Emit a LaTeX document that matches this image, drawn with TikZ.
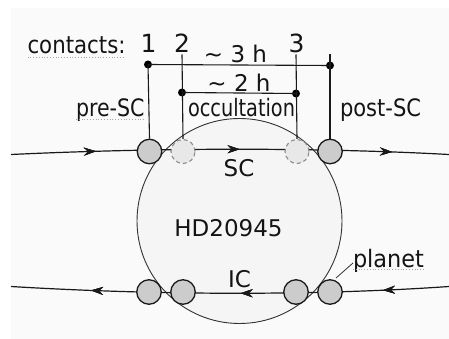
\documentclass[tikz,border=0pt]{standalone}
\usepackage{fontspec}
\setmainfont{DejaVu Sans}
\usetikzlibrary{arrows.meta,decorations.markings}
\newcommand{\sq}[2]{\scalebox{#1}[1]{#2}}
\begin{document}
\begin{tikzpicture}[x=1pt,y=-1pt,
  lbl/.style={inner sep=0pt,outer sep=0pt,font=\fontsize{23}{23}\selectfont,text=black!92},
  lw/.style={lbl,font=\fontsize{24}{24}\selectfont},
  digit/.style={lbl,font=\fontsize{25}{25}\selectfont},
  orbit/.style={line width=1.2pt,black!90},
  tick/.style={line width=1.1pt,black!90},
  planet/.style={circle,draw=black!90,line width=1.3pt,fill=black!20,minimum size=24.5pt,inner sep=0pt},
  hidden/.style={circle,draw=black!45,dash pattern=on 4pt off 3pt,line width=1.1pt,fill=black!9,minimum size=24pt,inner sep=0pt},
  dotn/.style={circle,fill=black,minimum size=8pt,inner sep=0pt},
  squiggle/.style={black!35,line width=0.8pt,dotted},
  arr/.style={decoration={markings,mark=at position #1 with {\arrow{Stealth[length=12pt,width=8pt,inset=4pt]}}},postaction={decorate}}
]
\useasboundingbox (0,0) rectangle (449,339);
\fill[white] (0,0) rectangle (449,339);
\fill[black!2] (11,8) rectangle (449,339);
% star
\node[circle,draw=black!80,line width=0.9pt,fill=black!4,minimum size=205pt,inner sep=0pt] (star) at (239.5,221) {};
\node[lbl,anchor=base] (hd) at (228.5,236.5) {HD20945};
% orbits
\coordinate (tl) at (11,154.5);
\coordinate (tr) at (449,154.5);
\coordinate (bl) at (11,286.5);
\coordinate (br) at (449,286.5);
\draw[orbit,arr/.list={0.194,0.522,0.87}] (tl) .. controls (160,147.5) and (320,147.5) .. (tr);
\draw[orbit,arr/.list={0.151,0.476,0.817}] (br) .. controls (320,295.5) and (160,295.5) .. (bl);
% planets top
\node[hidden] (p2) at (183,151.5) {};
\node[hidden] (p3) at (297,151.5) {};
\node[planet] (p1) at (149.5,151.5) {};
\node[planet] (p4) at (330,151.5) {};
% planets bottom
\node[planet] (q1) at (149,292) {};
\node[planet] (q2) at (183,292) {};
\node[planet] (q3) at (296,292) {};
\node[planet] (q4) at (330,292) {};
% contact lines
\coordinate (c2t) at (182,54.5);
\coordinate (c3t) at (296,54.5);
\coordinate (c4t) at (330,54.5);
\node[dotn] (d1) at (148,64.5) {};
\node[dotn] (d4) at (330,65.5) {};
\node[dotn] (d2) at (182,92.5) {};
\node[dotn] (d3) at (296,93.5) {};
\draw[tick] (d1.center) -- (p1.north);
\draw[tick] (c2t) -- (p2.north);
\draw[tick] (c3t) -- (p3.north);
\draw[tick] (c4t) -- (p4.north);
\draw[tick] (d1.center) -- (d4.center);
\draw[tick] (d2.center) -- (d3.center);
% labels
\node[lw,anchor=base west] (contacts) at (27.5,54) {\sq{0.888}{contacts:}};
\node[digit,anchor=base] (n1) at (148.5,53) {1};
\node[digit,anchor=base] (n2) at (182,53) {2};
\node[digit,anchor=base] (n3) at (296.5,52.5) {3};
\node[lbl,anchor=base] (h3) at (235.5,63) {\textasciitilde{} 3 h};
\node[lbl,anchor=base] (h2) at (239,91.5) {\textasciitilde{} 2 h};
\node[lw,anchor=base west] (pre) at (76,116.5) {\sq{0.857}{pre-SC}};
\node[lw,anchor=base west] (occ) at (188,116.5) {\sq{0.804}{occultation}};
\node[lw,anchor=base west] (post) at (340,116.5) {\sq{0.876}{post-SC}};
\node[lbl,anchor=base] (sc) at (239,176) {SC};
\node[lbl,anchor=base] (ic) at (239.5,287.5) {IC};
\node[lw,anchor=base west] (planet) at (353,267) {\sq{0.934}{planet}};
\coordinate (lead) at (336,278);
\draw[line width=0.8pt,black!80] (planet.west |- 0,263) -- (lead);
% spellcheck underlines
\draw[squiggle] (contacts.base west) ++(0,3) -- ++(98,0);
\draw[squiggle] (pre.base west) ++(0,2.5) -- ++(69,0);
\draw[squiggle] (planet.base west) ++(0,2.5) -- ++(71,0);
\end{tikzpicture}
\end{document}
